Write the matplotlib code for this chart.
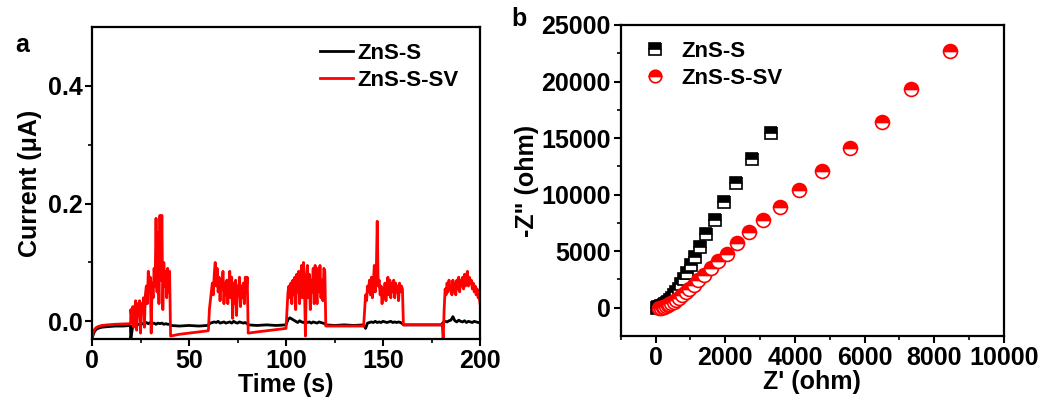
import numpy as np
import matplotlib
matplotlib.use('Agg')
import matplotlib.pyplot as plt

plt.rcParams['font.family'] = ['Liberation Sans', 'DejaVu Sans']
plt.rcParams['font.weight'] = 'bold'
plt.rcParams['axes.labelweight'] = 'bold'

# ---- panel a: photocurrent (red: ZnS-S-SV, black: ZnS-S) ----
# light-off stretches: (time, current)
red_off_t = [[0, 0.5, 1, 2, 3, 5, 8, 12, 16, 19.9],
             [40.5, 45, 50, 55, 59.9],
             [80.5, 85, 90, 95, 99.9],
             [120.5, 130, 139.9],
             [160.5, 170, 180.5]]
red_off_i = [[-0.03, -0.02, -0.015, -0.011, -0.009, -0.007, -0.006, -0.005, -0.0045, -0.004],
             [-0.025, -0.022, -0.02, -0.018, -0.016],
             [-0.02, -0.018, -0.016, -0.014, -0.012],
             [-0.008, -0.008, -0.008],
             [-0.006, -0.006, -0.006]]
# light-on stretches, sampled every 0.5 s from the start time
red_on_start = [20, 60, 100, 140, 181]
red_on_i = [
    [0.02, 0.005, 0.025, -0.01, 0.02, 0.035, -0.015, 0.03, 0.01, 0.035, -0.02, 0.03, 0.015, 0.04,
     -0.01, 0.045, 0.06, 0.03, 0.085, 0.05, 0.075, -0.02, 0.065, 0.04, 0.09, 0.06, 0.175, 0.05,
     0.15, 0.03, 0.18, 0.07, 0.18, 0.02, 0.1, 0.06, 0.085, 0.04, 0.09, 0.05, 0.085],
    [-0.015, 0.02, 0.035, 0.05, 0.065, 0.045, 0.08, 0.1, 0.06, 0.09, 0.05, 0.075, 0.035, 0.07,
     0.055, 0.085, 0.03, 0.065, 0.045, 0.07, 0.03, 0.06, 0.085, 0.04, 0.075, 0.005, 0.065, 0.03,
     0.07, 0.01, 0.06, 0.045, 0.075, 0.025, 0.06, 0.04, 0.065, 0.03, 0.075, 0.05, 0.075],
    [-0.012, 0.02, 0.05, 0.06, 0.04, 0.065, 0.03, 0.07, 0.045, 0.075, 0.02, 0.08, 0.05, 0.085,
     0.03, 0.07, 0.095, 0.04, 0.1, 0.06, -0.025, 0.07, 0.095, 0.04, 0.08, 0.02, 0.07, 0.05,
     0.09, 0.03, 0.095, 0.055, 0.03, 0.09, 0.05, 0.095, 0.04, 0.07, 0.035, 0.09, 0.085],
    [-0.008, 0.02, 0.045, 0.035, 0.06, 0.05, 0.07, 0.045, 0.075, 0.04, 0.065, 0.095, 0.05, 0.08,
     0.17, 0.06, 0.07, 0.045, 0.06, 0.03, 0.055, 0.04, 0.065, 0.035, 0.06, 0.075, 0.045, 0.07,
     0.04, 0.065, 0.05, 0.07, 0.04, 0.065, 0.05, 0.06, 0.035, 0.065, 0.05, 0.06, 0.055],
    [-0.03, 0.02, 0.055, 0.045, 0.065, 0.05, 0.07, 0.055, 0.06, 0.045, 0.07, 0.05, 0.065, 0.045,
     0.07, 0.055, 0.075, 0.05, 0.07, 0.06, 0.075, 0.055, 0.08, 0.06, 0.075, 0.085, 0.06, 0.075,
     0.065, 0.07, 0.055, 0.065, 0.05, 0.06, 0.045, 0.055, 0.04, 0.045, 0.03],
]

blk_off_t = [[0, 0.5, 1, 2, 3, 5, 8, 12, 16, 19.8],
             [40.5, 45, 50, 55, 59.5],
             [80.5, 85, 90, 95, 99.5],
             [120.5, 125, 130, 135, 139.5],
             [160.5, 165, 170, 175, 179.5]]
blk_off_i = [[-0.03, -0.024, -0.019, -0.014, -0.012, -0.01, -0.009, -0.008, -0.008, -0.007],
             [-0.007, -0.008, -0.007, -0.008, -0.007],
             [-0.006, -0.007, -0.006, -0.007, -0.006],
             [-0.006, -0.007, -0.006, -0.007, -0.006],
             [-0.006, -0.006, -0.006, -0.006, -0.006]]
# light-on stretches, sampled every 1 s from the start time
blk_on_start = [20, 60, 100, 140, 180]
blk_on_i = [
    [-0.03, -0.008, -0.007, -0.006, -0.005, -0.006, -0.004, -0.005, -0.002, -0.004, -0.002,
     -0.004, -0.003, -0.005, -0.003, -0.004, -0.003, -0.005, -0.004, -0.005, -0.005],
    [-0.006, -0.003, -0.002, -0.001, -0.002, 0.0, -0.003, -0.002, -0.001, -0.003, -0.002,
     -0.001, -0.003, 0.0, -0.002, -0.003, -0.001, -0.002, -0.003, -0.002, -0.004],
    [-0.006, 0.003, 0.006, 0.004, 0.002, 0.0, -0.002, 0.001, -0.001, -0.002, 0.0,
     -0.002, -0.001, -0.003, -0.001, -0.002, -0.003, -0.001, -0.002, -0.003, -0.004],
    [-0.006, -0.012, -0.003, -0.002, -0.001, -0.002, 0.0, -0.002, -0.001, -0.002, 0.0,
     -0.001, -0.002, -0.001, 0.0, -0.002, -0.001, -0.002, -0.001, -0.002, -0.004],
    [-0.006, -0.002, 0.0, -0.001, 0.001, 0.002, 0.008, 0.001, -0.001, 0.002, 0.0,
     -0.001, 0.001, -0.002, 0.0, -0.001, -0.002, 0.0, -0.001, -0.002, -0.002],
]

# ---- panel b: Nyquist plot ----
zns_re = [40, 80, 120, 160, 200, 240, 280, 320, 370, 420, 470, 530, 590, 660, 730, 810,
          900, 1005, 1129, 1273, 1455, 1694, 1962, 2316, 2775, 3320]
zns_im = [0, 30, 70, 120, 180, 250, 330, 430, 550, 700, 880, 1100, 1380, 1700, 2100, 2550,
          3100, 3760, 4500, 5390, 6510, 7750, 9320, 11070, 13140, 15440]
sv_re = [100, 150, 200, 250, 300, 350, 400, 455, 520, 590, 670, 760, 860, 970, 1090, 1230,
         1388, 1579, 1789, 2038, 2325, 2689, 3081, 3570, 4115, 4785, 5580, 6500, 7340, 8450]
sv_im = [0, 10, 40, 80, 140, 210, 300, 410, 540, 700, 900, 1130, 1400, 1700, 2050, 2450,
         2930, 3520, 4112, 4793, 5680, 6657, 7750, 8935, 10410, 12130, 14110, 16390, 19350, 22690]


def join(off_t, off_i, on_start, on_i, step):
    t, i = [], []
    for k in range(len(off_t)):
        t += list(off_t[k])
        i += list(off_i[k])
        if k < len(on_i):
            t += list(on_start[k] + step * np.arange(len(on_i[k])))
            i += list(on_i[k])
    order = np.argsort(t, kind='stable')
    return np.array(t)[order], np.array(i)[order]


red_t, red_i = join(red_off_t, red_off_i, red_on_start, red_on_i, 0.5)
blk_t, blk_i = join(blk_off_t, blk_off_i, blk_on_start, blk_on_i, 1.0)

fig = plt.figure(figsize=(10.42, 4.0), dpi=100)
ax1 = fig.add_axes([0.0883, 0.1525, 0.3724, 0.78])
ax2 = fig.add_axes([0.5957, 0.16, 0.3677, 0.7775])

ax1.plot(blk_t, blk_i, color='black', lw=2.0, label='ZnS-S')
ax1.plot(red_t, red_i, color='red', lw=2.0, label='ZnS-S-SV')
ax1.set_xlim(0, 200)
ax1.set_ylim(-0.03, 0.5)
ax1.set_xticks([0, 50, 100, 150, 200])
ax1.set_xticks([25, 75, 125, 175], minor=True)
ax1.set_yticks([0.0, 0.2, 0.4])
ax1.set_yticks([0.1, 0.3], minor=True)
ax1.set_yticklabels(['0.0', '0.2', '0.4'])
ax1.set_xlabel('Time (s)', fontsize=18, labelpad=0)
ax1.set_ylabel('Current (\u03bcA)', fontsize=18, labelpad=4)
ax1.legend(loc='upper right', frameon=False, fontsize=16, handlelength=1.5,
           handletextpad=0.2, borderaxespad=0.3, labelspacing=0.3,
           bbox_to_anchor=(0.985, 1.0))

ax2.plot(zns_re, zns_im, ls='none', marker='s', ms=9, color='black', mfc='black',
         mfcalt='white', mec='black', fillstyle='top', mew=1.2, label='ZnS-S')
ax2.plot(sv_re, sv_im, ls='none', marker='o', ms=10, color='red', mfc='red',
         mfcalt='white', mec='red', fillstyle='top', mew=1.2, label='ZnS-S-SV')
ax2.set_xlim(-1000, 10000)
ax2.set_ylim(-2500, 25000)
ax2.set_xticks([0, 2000, 4000, 6000, 8000, 10000])
ax2.set_xticks([1000, 3000, 5000, 7000, 9000, -1000], minor=True)
ax2.set_yticks([0, 5000, 10000, 15000, 20000, 25000])
ax2.set_yticks([2500, 7500, 12500, 17500, 22500], minor=True)
ax2.set_xlabel("Z' (ohm)", fontsize=18, labelpad=0)
ax2.set_ylabel('-Z" (ohm)', fontsize=18, labelpad=2)
ax2.legend(loc='upper left', frameon=False, fontsize=16, handletextpad=0.2,
           borderaxespad=0.3, labelspacing=0.3, markerscale=0.9,
           bbox_to_anchor=(-0.01, 1.0))

for ax in (ax1, ax2):
    for s in ax.spines.values():
        s.set_linewidth(1.6)
    ax.tick_params(which='major', direction='out', length=5, width=1.5,
                   labelsize=18, pad=2)
    ax.tick_params(which='minor', direction='out', length=3, width=1.2)
    for lab in ax.get_xticklabels() + ax.get_yticklabels():
        lab.set_fontweight('bold')

fig.text(0.015, 0.87, 'a', fontsize=18, fontweight='bold')
fig.text(0.491, 0.935, 'b', fontsize=18, fontweight='bold')

fig.savefig('out.png', dpi=100)
